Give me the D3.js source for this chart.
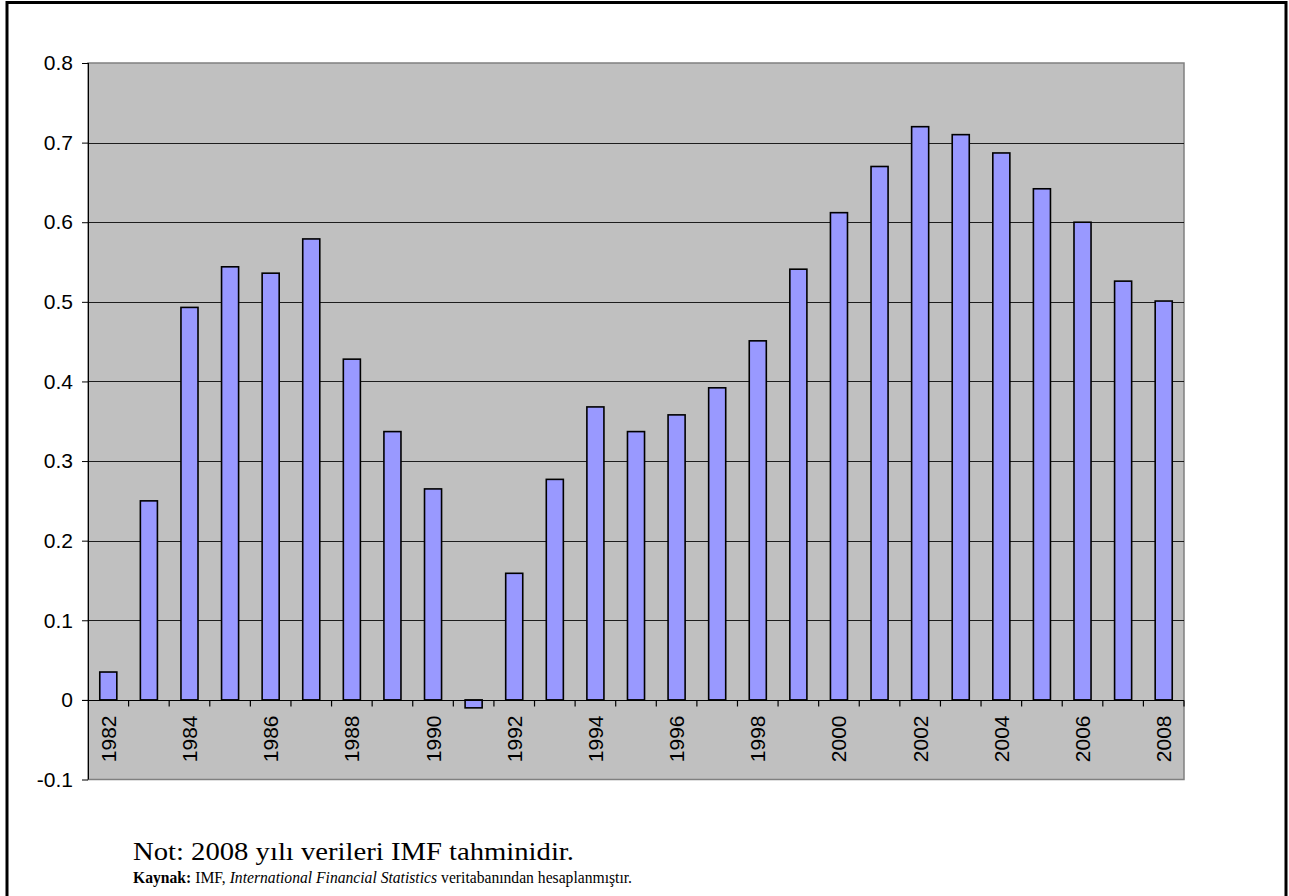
<!DOCTYPE html>
<html><head><meta charset="utf-8">
<script src="https://cdn.jsdelivr.net/npm/d3@7/dist/d3.min.js"></script>
<style>body{margin:0;background:#fff}</style>
</head><body>
<script>
const years = [1982,1983,1984,1985,1986,1987,1988,1989,1990,1991,1992,1993,1994,1995,1996,1997,1998,1999,2000,2001,2002,2003,2004,2005,2006,2007,2008];
const values = [0.035,0.25,0.493,0.544,0.536,0.579,0.428,0.337,0.265,-0.01,0.159,0.277,0.368,0.337,0.358,0.392,0.451,0.541,0.612,0.670,0.720,0.710,0.687,0.642,0.600,0.526,0.501];
const yTicks = [-0.1,0,0.1,0.2,0.3,0.4,0.5,0.6,0.7,0.8];
const xLabelYears = [1982,1984,1986,1988,1990,1992,1994,1996,1998,2000,2002,2004,2006,2008];
const noteText = "Not: 2008 yılı verileri IMF tahminidir.";
const sourceBold = "Kaynak:";
const sourcePre = "IMF,";
const sourceItalic = "International Financial Statistics";
const sourcePost = "veritabanından hesaplanmıştır.";

const W = 1289, H = 896;
const svg = d3.select("body").append("svg").attr("width", W).attr("height", H);

// outer frame
svg.append("path").attr("d", `M7,${H} V2.5 H1286 V${H}`).attr("fill","none").attr("stroke","#000").attr("stroke-width",3);

const L = 88, R = 1184, T = 63, B = 779.5;
const x = d3.scaleBand().domain(years).range([L, R]).paddingInner(0.58).paddingOuter(0.29);
const xb = d3.scaleBand().domain(years).range([L, R]);
const y = d3.scaleLinear().domain([-0.1, 0.8]).range([B, T]);

// plot area
svg.append("rect").attr("x", L).attr("y", T).attr("width", R - L).attr("height", B - T)
  .attr("fill", "#c0c0c0").attr("stroke", "#808080").attr("stroke-width", 1.5);

// gridlines
svg.append("g").selectAll("line").data(yTicks.filter(d => d > -0.1 && d < 0.8)).join("line")
  .attr("x1", L).attr("x2", R).attr("y1", d => Math.round(y(d)) + 0.5).attr("y2", d => Math.round(y(d)) + 0.5)
  .attr("stroke", "#000").attr("stroke-width", 1).attr("stroke-opacity", 0.85);

// bars
svg.append("g").selectAll("rect").data(years).join("rect")
  .attr("x", (d) => x(d))
  .attr("width", x.bandwidth())
  .attr("y", (d, i) => y(Math.max(0, values[i])))
  .attr("height", (d, i) => Math.abs(y(values[i]) - y(0)))
  .attr("fill", "#9999ff").attr("stroke", "#000").attr("stroke-width", 1.6);

// y axis
const yAxis = d3.axisLeft(y).tickValues(yTicks).tickSize(6).tickPadding(9)
  .tickFormat(d => String(Math.round(d * 10) / 10));
const gy = svg.append("g").attr("transform", `translate(${L},0)`).call(yAxis);
gy.select(".domain").attr("stroke", "#000").attr("d", `M0.5,${T}V${B}`);
gy.selectAll("text").attr("font-family", "Liberation Sans, Arial, sans-serif").attr("font-size", 21).attr("fill", "#000");

// x axis at zero
const x0 = Math.round(y(0)) + 0.5;
const gx = svg.append("g").attr("transform", `translate(0,${x0})`);
gx.append("line").attr("x1", L - 6).attr("x2", R).attr("y1", 0).attr("y2", 0).attr("stroke", "#000").attr("stroke-width", 1.2);
gx.selectAll("line.tk").data(years).join("line").attr("class", "tk")
  .attr("x1", d => xb(d) + xb.bandwidth()).attr("x2", d => xb(d) + xb.bandwidth())
  .attr("y1", 0).attr("y2", 6).attr("stroke", "#000").attr("stroke-width", 1.2);
gx.selectAll("text").data(xLabelYears).join("text")
  .attr("transform", d => `translate(${xb(d) + xb.bandwidth() / 2 + 7.5},15) rotate(-90)`)
  .attr("text-anchor", "end")
  .attr("font-family", "Liberation Sans, Arial, sans-serif").attr("font-size", 21).attr("fill", "#000")
  .text(d => d);

// notes
const serif = "Liberation Serif, Times New Roman, serif";
svg.append("text").attr("x", 133).attr("y", 860)
  .attr("font-family", serif).attr("font-size", 25).attr("fill", "#000")
  .attr("textLength", 441).attr("lengthAdjust", "spacingAndGlyphs")
  .text(noteText);

// source line: separate pieces laid out one after another, scaled to the reference width
const parts = [
  {t: sourceBold, w: "bold", s: "normal"},
  {t: sourcePre, w: "normal", s: "normal"},
  {t: sourceItalic, w: "normal", s: "italic"},
  {t: sourcePost, w: "normal", s: "normal"}
];
const srcG = svg.append("g");
const srcTexts = srcG.selectAll("text").data(parts).join("text")
  .attr("y", 883).attr("font-family", serif).attr("font-size", 17.5).attr("fill", "#000")
  .attr("font-weight", d => d.w).attr("font-style", d => d.s).text(d => d.t);
const widths = srcTexts.nodes().map(n => n.getComputedTextLength());
const gap = 4.5;
const total = d3.sum(widths) + gap * (parts.length - 1);
const k = 499 / total;
let cx = 133;
srcTexts.each(function(d, i) {
  const w = widths[i] * k;
  d3.select(this).attr("x", cx).attr("textLength", w).attr("lengthAdjust", "spacingAndGlyphs");
  cx += w + gap * k;
});
</script>
</body></html>
